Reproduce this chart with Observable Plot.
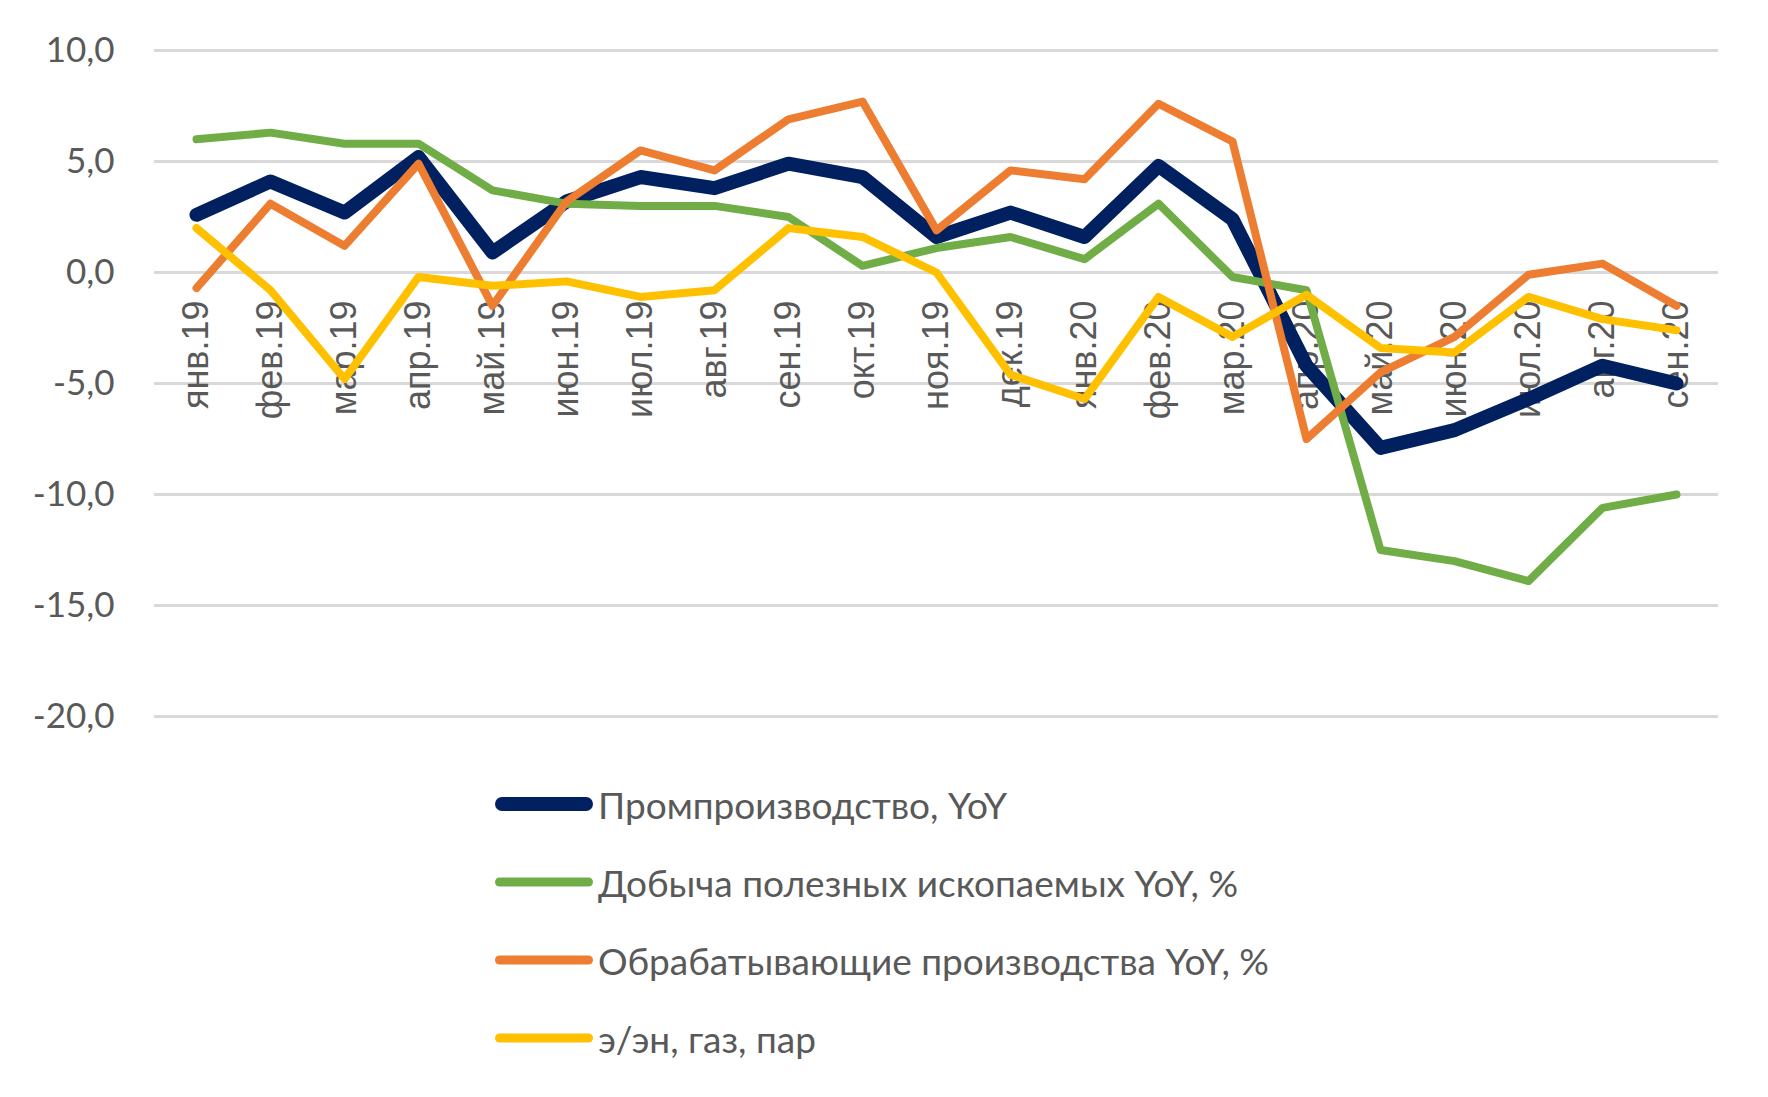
<!DOCTYPE html>
<html>
<head>
<meta charset="utf-8">
<script src="https://cdn.jsdelivr.net/npm/d3@7"></script>
<script src="https://cdn.jsdelivr.net/npm/@observablehq/plot@0.6"></script>
<style>
  html, body { margin: 0; padding: 0; background: #ffffff; }
  #wrap { position: relative; width: 1768px; height: 1097px; overflow: hidden; }
  .legrow { position: absolute; left: 490px; height: 78px; display: flex; align-items: center;
            font-family: Lato, "Noto Sans", sans-serif; font-size: 37px; color: #595959; white-space: nowrap; }
  .legrow svg { display: block; margin-right: 4px; }
</style>
</head>
<body>
<div id="wrap"></div>
<script>
const months = ["янв.19","фев.19","мар.19","апр.19","май.19","июн.19","июл.19","авг.19","сен.19","окт.19","ноя.19","дек.19","янв.20","фев.20","мар.20","апр.20","май.20","июн.20","июл.20","авг.20","сен.20"];
const yTicks = [-20, -15, -10, -5, 0, 5, 10];

const seriesNames = ["Промпроизводство, YoY", "Добыча полезных ископаемых YoY, %", "Обрабатывающие производства YoY, %", "э/эн, газ, пар"];
const prom   = [2.6, 4.1, 2.7, 5.2, 0.9, 3.2, 4.3, 3.8, 4.9, 4.3, 1.6, 2.7, 1.6, 4.8, 2.4, -4.2, -7.9, -7.1, -5.7, -4.2, -5.0];
const mining = [6.0, 6.3, 5.8, 5.8, 3.7, 3.1, 3.0, 3.0, 2.5, 0.3, 1.1, 1.6, 0.6, 3.1, -0.2, -0.8, -12.5, -13.0, -13.9, -10.6, -10.0];
const manuf  = [-0.7, 3.1, 1.2, 4.9, -1.5, 3.2, 5.5, 4.6, 6.9, 7.7, 1.9, 4.6, 4.2, 7.6, 5.9, -7.5, -4.5, -2.9, -0.1, 0.4, -1.5];
const energy = [2.0, -0.8, -4.8, -0.2, -0.6, -0.4, -1.1, -0.8, 2.0, 1.6, 0.0, -4.6, -5.7, -1.1, -2.9, -1.0, -3.4, -3.6, -1.1, -2.1, -2.6];

const seriesValues = [prom, mining, manuf, energy];
const colors = ["#002060", "#70AD47", "#ED7D31", "#FFC000"];
const widths = [14, 8, 8, 8];

const data = seriesNames.flatMap((name, s) =>
  months.map((m, i) => ({ month: m, value: seriesValues[s][i], series: name })));

const fmt = d => d.toFixed(1).replace(".", ",");

const chart = Plot.plot({
  width: 1768,
  height: 770,
  marginLeft: 154,
  marginRight: 50,
  marginTop: 50,
  marginBottom: 54,
  style: { background: "#ffffff", fontFamily: "Lato, 'Noto Sans', sans-serif", overflow: "visible" },
  x: { type: "point", domain: months, range: [190, 1681], padding: 0, axis: null },
  y: { domain: [-20, 10], axis: null },
  marks: [
    Plot.ruleY(yTicks, { stroke: "#D9D9D9", strokeWidth: 3 }),
    Plot.text(yTicks, { y: d => d, frameAnchor: "left", textAnchor: "end", dx: -40, text: fmt,
      fontSize: 35, fill: "#595959", fontFamily: "Lato, 'Noto Sans', sans-serif" }),
    Plot.text(months, { x: d => d, y: d => 0, text: d => d, rotate: -90, textAnchor: "end", dy: 28,
      fontSize: 36, fill: "#595959", fontFamily: "'Liberation Sans', Arial, sans-serif" }),
    ...seriesNames.map((name, s) =>
      Plot.line(data.filter(d => d.series === name), {
        x: "month", y: "value", stroke: colors[s], strokeWidth: widths[s],
        strokeLinejoin: "round", strokeLinecap: "round"
      }))
  ]
});

const wrap = document.getElementById("wrap");
wrap.appendChild(chart);

const rowCenters = [804, 882, 960, 1038];
seriesNames.forEach((name, s) => {
  const row = document.createElement("div");
  row.className = "legrow";
  row.style.top = (rowCenters[s] - 39) + "px";
  const w = s === 0 ? 14 : 9;
  row.innerHTML = `<svg width="104" height="24"><line x1="${5 + w / 2}" y1="12" x2="${103 - w / 2}" y2="12" stroke="${colors[s]}" stroke-width="${w}" stroke-linecap="round"/></svg><span>${name}</span>`;
  wrap.appendChild(row);
});
</script>
</body>
</html>
